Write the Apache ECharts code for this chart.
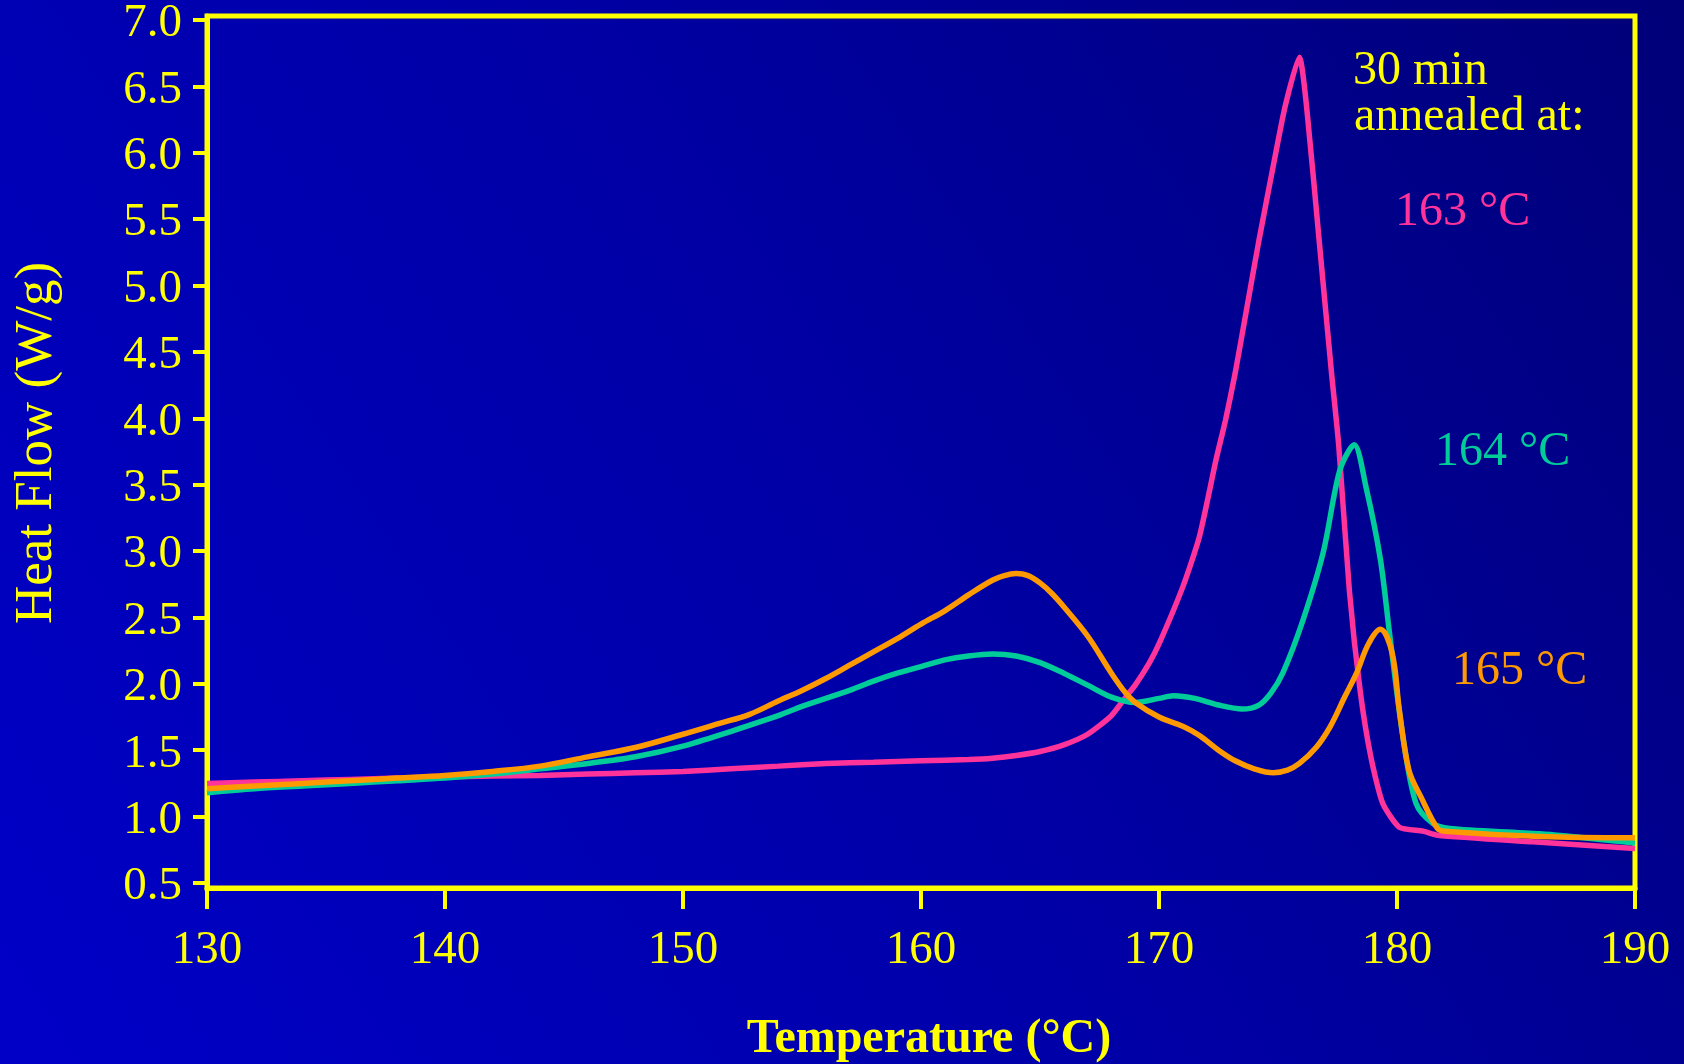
<!DOCTYPE html>
<html>
<head>
<meta charset="utf-8">
<script src="https://cdn.jsdelivr.net/npm/echarts@6/dist/echarts.min.js"></script>
<style>
html,body{margin:0;padding:0;background:#00009a;}
#chart{width:1684px;height:1064px;}
</style>
</head>
<body>
<div id="chart"></div>
<script>
// ---- data (Temperature °C, Heat Flow W/g) ----
const seriesNames = ['163 °C', '164 °C', '165 °C'];
const yTickValues = [0.5, 1.0, 1.5, 2.0, 2.5, 3.0, 3.5, 4.0, 4.5, 5.0, 5.5, 6.0, 6.5, 7.0];
const xTickValues = [130, 140, 150, 160, 170, 180, 190];

const temp163 = [130, 132, 134, 136, 138, 140, 142, 144, 146, 148, 150, 152, 154, 156, 158, 160, 162, 163, 164, 165, 166, 167, 168, 168.6, 169, 169.6, 170, 171, 171.7, 172.4, 172.8, 173.2, 173.7, 174.2, 174.8, 175.3, 175.9, 176.2, 176.75, 177.25, 177.55, 178.0, 178.45, 178.9, 179.4, 180.1, 181.1, 181.7, 185.7, 190];
const flow163 = [1.25, 1.26, 1.27, 1.28, 1.29, 1.30, 1.305, 1.31, 1.32, 1.33, 1.34, 1.36, 1.38, 1.40, 1.41, 1.42, 1.43, 1.44, 1.46, 1.49, 1.54, 1.62, 1.76, 1.90, 1.99, 2.16, 2.30, 2.73, 3.11, 3.69, 3.99, 4.34, 4.84, 5.34, 5.90, 6.35, 6.72, 6.35, 5.30, 4.34, 3.80, 2.70, 1.95, 1.45, 1.10, 0.92, 0.89, 0.86, 0.81, 0.76];

const temp164 = [130, 132, 134, 136, 138, 140, 142, 144, 146, 148, 150, 152, 153, 154, 155, 156, 157, 158, 159, 160, 161, 162, 163, 164, 165, 166, 167, 168, 169, 170, 170.6, 171.5, 172.5, 173.5, 174.2, 174.7, 175.2, 176.05, 176.9, 177.6, 178.2, 178.7, 179.3, 179.7, 180.25, 180.8, 181.5, 182.2, 186, 190];
const flow164 = [1.18, 1.21, 1.23, 1.25, 1.27, 1.29, 1.32, 1.36, 1.40, 1.45, 1.53, 1.64, 1.70, 1.76, 1.83, 1.89, 1.95, 2.02, 2.08, 2.13, 2.18, 2.21, 2.225, 2.21, 2.16, 2.08, 1.99, 1.90, 1.86, 1.89, 1.91, 1.89, 1.84, 1.81, 1.84, 1.93, 2.08, 2.48, 2.99, 3.61, 3.80, 3.48, 2.94, 2.36, 1.60, 1.10, 0.95, 0.91, 0.87, 0.80];

const temp165 = [130, 132, 134, 136, 138, 140, 142, 144, 146, 148, 150, 151.5, 152.8, 154, 155, 156, 157, 158, 159, 160, 161, 162, 163, 163.5, 164, 164.5, 165, 165.5, 166, 167, 168, 168.6, 169, 170, 171, 171.7, 172.5, 173.2, 174, 174.8, 175.4, 175.9, 176.6, 177.2, 177.8, 178.3, 178.8, 179.3, 179.8, 180.1, 180.5, 181.0, 181.7, 182, 186, 190];
const flow165 = [1.21, 1.23, 1.25, 1.27, 1.29, 1.31, 1.34, 1.38, 1.45, 1.52, 1.62, 1.70, 1.77, 1.87, 1.95, 2.04, 2.14, 2.24, 2.34, 2.45, 2.55, 2.67, 2.78, 2.815, 2.83, 2.815, 2.76, 2.68, 2.58, 2.36, 2.08, 1.93, 1.86, 1.75, 1.68, 1.61, 1.50, 1.42, 1.36, 1.33, 1.35, 1.40, 1.52, 1.68, 1.90, 2.08, 2.30, 2.41, 2.23, 1.80, 1.35, 1.15, 0.91, 0.89, 0.85, 0.84];

const colors = ['#FF3399', '#00CC99', '#FF9900'];
const YELLOW = '#FFFF00';
const FONT = '"Liberation Serif", "Times New Roman", serif';

function pairs(xs, ys) { return xs.map((x, i) => [x, ys[i]]); }

const chart = echarts.init(document.getElementById('chart'), null, {renderer: 'canvas'});
const option = {
  animation: false,
  backgroundColor: {
    type: 'linear', x: 0, y: 1, x2: 1, y2: 0,
    colorStops: [
      {offset: 0, color: '#0000C8'},
      {offset: 0.5, color: '#0000A6'},
      {offset: 1, color: '#000078'}
    ]
  },
  grid: {
    left: 207, right: 49, top: 16, bottom: 176,
    containLabel: false, outerBoundsMode: 'none',
    show: true, borderColor: YELLOW, borderWidth: 5, backgroundColor: 'transparent'
  },
  xAxis: {
    type: 'value', min: 130, max: 190, interval: 10,
    name: 'Temperature (°C)', nameLocation: 'middle', nameGap: 128,
    nameTextStyle: {color: YELLOW, fontFamily: FONT, fontSize: 48, fontWeight: 'bold', padding: [0, 0, 0, 16]},
    axisLine: {show: true, lineStyle: {color: YELLOW, width: 5}},
    axisTick: {show: true, inside: false, length: 21, lineStyle: {color: YELLOW, width: 4}},
    axisLabel: {color: YELLOW, fontFamily: FONT, fontSize: 47, margin: 39},
    splitLine: {show: false}
  },
  yAxis: {
    type: 'value', min: 0.462, max: 7.03,
    name: 'Heat Flow (W/g)', nameLocation: 'middle', nameGap: 143, nameRotate: 90,
    nameTextStyle: {color: YELLOW, fontFamily: FONT, fontSize: 53, padding: [0, 0, 0, 18]},
    axisLine: {show: true, lineStyle: {color: YELLOW, width: 5}},
    axisTick: {show: true, inside: false, length: 14, lineStyle: {color: YELLOW, width: 4}, customValues: yTickValues},
    axisLabel: {color: YELLOW, fontFamily: FONT, fontSize: 47, margin: 25, customValues: yTickValues,
      formatter: v => '{a|' + Number(v).toFixed(1) + '}',
      rich: {a: {color: YELLOW, fontFamily: FONT, fontSize: 47, padding: [8, 0, 0, 0]}}},
    splitLine: {show: false}
  },
  series: [
    {name: seriesNames[0], type: 'line', data: pairs(temp163, flow163), showSymbol: false, smooth: 0.2,
      lineStyle: {color: colors[0], width: 5.5}, z: 3},
    {name: seriesNames[1], type: 'line', data: pairs(temp164, flow164), showSymbol: false, smooth: 0.3,
      lineStyle: {color: colors[1], width: 5.5}, z: 4},
    {name: seriesNames[2], type: 'line', data: pairs(temp165, flow165), showSymbol: false, smooth: 0.35,
      lineStyle: {color: colors[2], width: 5.5}, z: 5}
  ],
  graphic: [
    {type: 'text', left: 1353, top: 47, z: 10, style: {text: '30 min', fill: YELLOW, font: '48px ' + FONT}},
    {type: 'text', left: 1354, top: 93, z: 10, style: {text: 'annealed at:', fill: YELLOW, font: '48px ' + FONT}},
    {type: 'text', left: 1395, top: 188, z: 10, style: {text: seriesNames[0], fill: colors[0], font: '48px ' + FONT}},
    {type: 'text', left: 1435, top: 428, z: 10, style: {text: seriesNames[1], fill: colors[1], font: '48px ' + FONT}},
    {type: 'text', left: 1452, top: 647, z: 10, style: {text: seriesNames[2], fill: colors[2], font: '48px ' + FONT}}
  ]
};
chart.setOption(option);
</script>
</body>
</html>
